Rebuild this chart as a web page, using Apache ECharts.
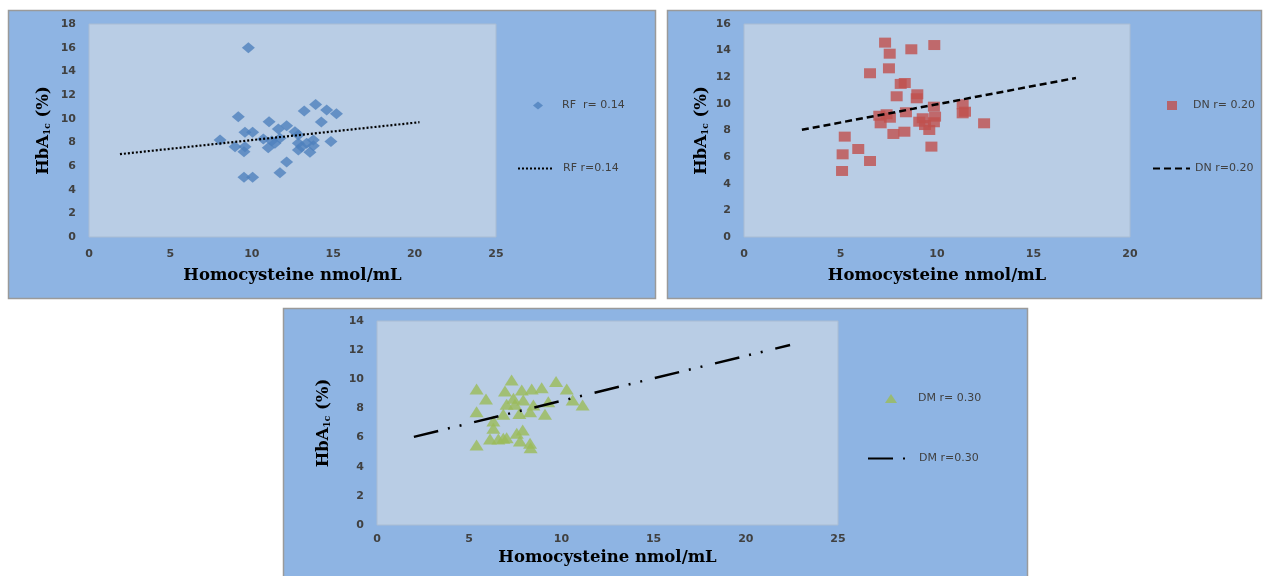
<!DOCTYPE html>
<html lang="en">
<head>
    <meta charset="UTF-8">
    <title>Homocysteine vs HbA1c</title>
    <script src="https://cdn.jsdelivr.net/npm/echarts@6/dist/echarts.min.js"></script>
    <style>
        html, body { margin: 0; padding: 0; background: #fff; }
        #container { width: 1270px; height: 576px; }
    </style>
</head>
<body>
<div id="container"></div>

<script>
    // RF group (diamonds)
    var rfX = [9.79, 9.17, 13.92, 13.22, 14.6, 15.2, 11.06, 14.27, 12.14, 11.63, 9.58, 10.05, 12.65, 12.86,
               8.05, 10.71, 11.22, 11.73, 8.97, 9.58, 9.52, 11.01, 12.86, 13.06, 13.78, 13.78, 13.57, 12.86,
               14.86, 12.14, 11.73, 9.52, 10.05, 11.42, 13.37];
    var rfY = [16.0, 10.17, 11.2, 10.65, 10.73, 10.42, 9.75, 9.72, 9.41, 9.13, 8.85, 8.85, 8.9, 8.62,
               8.2, 8.28, 8.11, 8.34, 7.63, 7.63, 7.21, 7.55, 7.92, 7.63, 8.2, 7.72, 7.16, 7.35,
               8.06, 6.34, 5.44, 5.05, 5.05, 7.92, 7.92];

    // DN group (squares)
    var dnX = [7.31, 9.86, 8.67, 7.55, 6.53, 7.51, 8.12, 8.33, 7.91, 8.98, 8.95, 9.84, 11.33, 11.33, 11.45,
               7.01, 7.39, 7.56, 7.08, 8.39, 9.26, 9.9, 9.84, 9.38, 9.6, 12.44, 7.74, 8.31, 5.22, 5.92,
               5.11, 6.53, 5.08, 9.71, 9.08];
    var dnY = [14.6, 14.42, 14.1, 13.77, 12.3, 12.67, 11.5, 11.57, 10.57, 10.72, 10.42, 9.79, 9.97, 9.29, 9.41,
               9.11, 9.22, 8.96, 8.54, 9.37, 8.92, 9.04, 8.62, 8.41, 8.04, 8.54, 7.74, 7.91, 7.54, 6.61,
               6.21, 5.71, 4.96, 6.79, 8.66];

    // DM group (triangles)
    var dmX = [7.3, 9.71, 5.4, 6.94, 7.85, 8.39, 8.93, 10.29, 5.91, 7.93, 7.03, 7.48, 8.48, 9.29, 10.61, 11.15,
               5.4, 6.85, 7.72, 8.3, 9.11, 6.31, 6.31, 7.9, 7.58, 6.13, 6.58, 7.03, 7.75, 8.3, 5.4, 8.33,
               7.4, 6.85];
    var dmY = [9.95, 9.84, 9.33, 9.2, 9.27, 9.33, 9.42, 9.33, 8.65, 8.58, 8.28, 8.28, 8.24, 8.46, 8.58, 8.24,
               7.78, 7.6, 7.66, 7.78, 7.6, 7.14, 6.64, 6.52, 6.29, 5.9, 5.9, 5.99, 5.77, 5.61, 5.49, 5.31,
               8.7, 5.95];

    // trend lines: [x start, x end], [y start, y end]
    var rfTrendX = [1.9, 20.3], rfTrendY = [7.0, 9.7];
    var dnTrendX = [3.0, 17.2], dnTrendY = [8.05, 11.95];
    var dmTrendX = [2.0, 22.4], dmTrendY = [6.05, 12.35];

    // axis ranges
    var xMax = [25, 20, 25];
    var yMax = [18, 16, 14];

    var rfName = 'RF  r= 0.14', rfLineName = 'RF r=0.14';
    var dnName = 'DN r= 0.20', dnLineName = 'DN r=0.20';
    var dmName = 'DM r= 0.30', dmLineName = 'DM r=0.30';

    function pairs(xs, ys) {
        return xs.map(function (x, i) { return [x, ys[i]]; });
    }

    var tickFont = { fontFamily: 'DejaVu Sans', fontWeight: 'bold', fontSize: 11, color: '#404040' };
    var titleFont = { fontFamily: 'DejaVu Serif', fontWeight: 'bold', fontSize: 16.5, color: '#000' };

    var yName = '{a|HbA}{s|1c}{a| (%)}';
    var yRich = {
        a: { fontFamily: 'DejaVu Serif', fontWeight: 'bold', fontSize: 16.5, color: '#000' },
        s: { fontFamily: 'DejaVu Serif', fontWeight: 'bold', fontSize: 9, color: '#000', verticalAlign: 'bottom', padding: [6, 0, 0, 0] }
    };

    function xAxis(i, labelMargin, nameGap) {
        return {
            type: 'value', gridIndex: i, min: 0, max: xMax[i], interval: 5,
            name: 'Homocysteine nmol/mL', nameLocation: 'middle', nameGap: nameGap,
            nameTextStyle: titleFont,
            axisLine: { show: false }, axisTick: { show: false }, splitLine: { show: false },
            axisLabel: Object.assign({ margin: labelMargin }, tickFont)
        };
    }
    function yAxis(i, nameGap) {
        return {
            type: 'value', gridIndex: i, min: 0, max: yMax[i], interval: 2,
            name: yName, nameLocation: 'middle', nameGap: nameGap, nameRotate: 90,
            nameTextStyle: { rich: yRich },
            axisLine: { show: false }, axisTick: { show: false }, splitLine: { show: false },
            axisLabel: Object.assign({ margin: 13 }, tickFont)
        };
    }
    function gridBox(left, top, width, height) {
        return {
            left: left, top: top, width: width, height: height,
            show: true, backgroundColor: '#B9CDE5', borderColor: '#A9BCD3', borderWidth: 1
        };
    }
    // one legend per entry so each icon gets its own box
    function legendItem(name, left, top, w, h, textPad, lineOnly) {
        var lg = {
            data: [name], left: left, top: top, padding: 0,
            itemWidth: w, itemHeight: h, selectedMode: false,
            textStyle: { fontFamily: 'DejaVu Sans', fontSize: 11, color: '#404040', padding: [0, 0, 0, textPad] }
        };
        if (lineOnly) {
            lg.itemStyle = { opacity: 0 };   // hide the marker drawn in the middle of the line icon
        }
        return lg;
    }

    var option = {
        animation: false,
        backgroundColor: '#fff',
        graphic: [
            { type: 'rect', shape: { x: 8.5, y: 10.5, width: 647, height: 288 }, style: { fill: '#8EB4E3', stroke: '#9A9A9A', lineWidth: 1.5 }, z: -10 },
            { type: 'rect', shape: { x: 667.5, y: 10.5, width: 594, height: 288 }, style: { fill: '#8EB4E3', stroke: '#9A9A9A', lineWidth: 1.5 }, z: -10 },
            { type: 'rect', shape: { x: 283.5, y: 308.5, width: 744, height: 280 }, style: { fill: '#8EB4E3', stroke: '#9A9A9A', lineWidth: 1.5 }, z: -10 }
        ],
        grid: [
            gridBox(89, 24, 407, 213),
            gridBox(744, 24, 386, 213),
            gridBox(377, 321, 461, 204)
        ],
        xAxis: [xAxis(0, 12, 30), xAxis(1, 12, 30), xAxis(2, 9, 24)],
        yAxis: [yAxis(0, 37), yAxis(1, 34), yAxis(2, 45)],
        legend: [
            legendItem(rfName, 533, 100, 10, 8, 14, false),
            legendItem(rfLineName, 517, 163, 35, 9, 5, true),
            legendItem(dnName, 1167, 100, 10, 9, 11, false),
            legendItem(dnLineName, 1152, 163, 37, 9, 0, true),
            legendItem(dmName, 885, 393, 12, 9, 16, false),
            legendItem(dmLineName, 867, 453, 42, 9, 4, true)
        ],
        series: [
            {
                name: rfName, type: 'scatter', xAxisIndex: 0, yAxisIndex: 0,
                symbol: 'diamond', symbolSize: [13, 11],
                itemStyle: { color: '#4F81BD' },
                data: pairs(rfX, rfY)
            },
            {
                name: rfLineName, type: 'line', xAxisIndex: 0, yAxisIndex: 0, symbol: 'none',
                lineStyle: { color: '#000', width: 2.2, type: [2, 2] },
                itemStyle: { color: '#000' },
                data: pairs(rfTrendX, rfTrendY)
            },
            {
                name: dnName, type: 'scatter', xAxisIndex: 1, yAxisIndex: 1,
                symbol: 'rect', symbolSize: [12, 10],
                itemStyle: { color: '#C0504D' },
                data: pairs(dnX, dnY)
            },
            {
                name: dnLineName, type: 'line', xAxisIndex: 1, yAxisIndex: 1, symbol: 'none',
                lineStyle: { color: '#000', width: 2.5, type: [7, 4] },
                itemStyle: { color: '#000' },
                data: pairs(dnTrendX, dnTrendY)
            },
            {
                name: dmName, type: 'scatter', xAxisIndex: 2, yAxisIndex: 2,
                symbol: 'triangle', symbolSize: [14, 11],
                itemStyle: { color: '#9BBB59' },
                data: pairs(dmX, dmY)
            },
            {
                name: dmLineName, type: 'line', xAxisIndex: 2, yAxisIndex: 2, symbol: 'none',
                lineStyle: { color: '#000', width: 2.5, type: [25, 10, 2, 10, 2, 13] },
                itemStyle: { color: '#000' },
                data: pairs(dmTrendX, dmTrendY)
            }
        ]
    };

    var myChart = echarts.init(document.getElementById('container'));
    myChart.setOption(option);
</script>
</body>
</html>
